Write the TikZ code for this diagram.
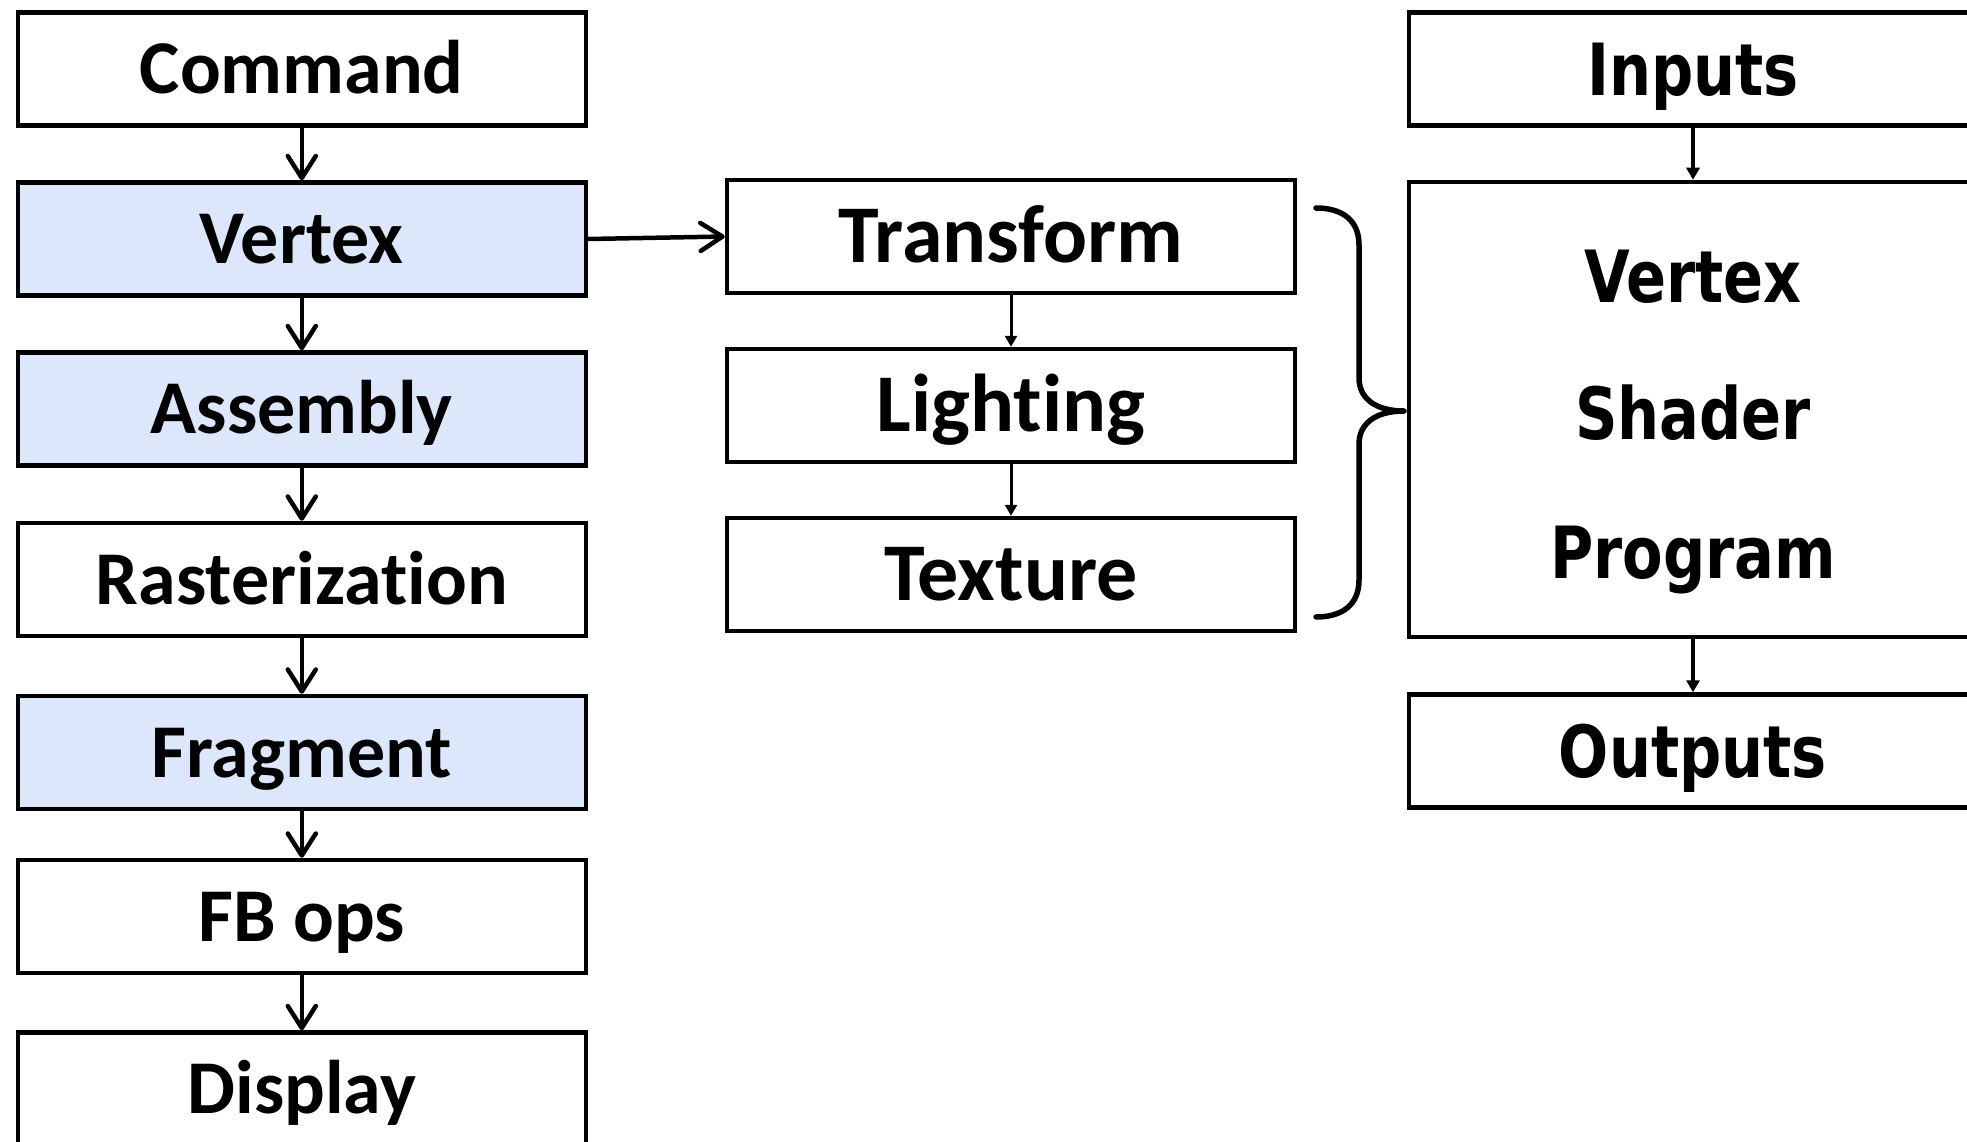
\documentclass[tikz,border=0pt]{standalone}
\usepackage{fontspec}
\newfontfamily\lfont{Carlito}[Ligatures=NoCommon]
\newfontfamily\rfont{DejaVu Sans}[FakeStretch=0.82]
\usetikzlibrary{arrows.meta}
\definecolor{stageblue}{RGB}{221,231,252}
\begin{document}
\begin{tikzpicture}[x=1pt,y=-1pt,
  stagebox/.style={draw=black,line width=4.5pt,rectangle,minimum width=568pt,minimum height=113pt,inner sep=0pt,fill=white},
  leftbox/.style={stagebox,font=\lfont\bfseries\fontsize{76}{90}\selectfont,text height=49pt,text depth=0pt},
  hilite/.style={fill=stageblue},
  midbox/.style={stagebox,font=\lfont\bfseries\fontsize{82}{90}\selectfont,text height=52.5pt,text depth=0pt},
  rightbox/.style={stagebox,font=\rfont\bfseries\fontsize{72}{90}\selectfont,text height=52.5pt,text depth=0pt},
  rtext/.style={inner sep=0pt,font=\rfont\bfseries\fontsize{72}{90}\selectfont,text height=52.5pt,text depth=0pt},
  bigarrow/.style={line width=4.5pt,-{Straight Barb[round,length=22pt,width=28pt,line width=4.5pt]}},
  thinarrow/.style={line width=3pt,-{Triangle[length=11pt,width=12pt]}},
  medarrow/.style={line width=3.5pt,-{Triangle[length=12pt,width=13pt]}},
  bracestyle/.style={line width=5.5pt,line cap=round,line join=round}
]
\useasboundingbox (0,0) rectangle (1967,1142);
\fill[white] (0,0) rectangle (1967,1142);
\clip (0,0) rectangle (1967,1142);

% left column
\node[leftbox] (cmd) at (301.8,69) {Command};
\node[leftbox,hilite] (vtx) at (301.8,239) {Vertex};
\node[leftbox,hilite] (asm) at (301.8,409) {Assembly};
\node[leftbox] (ras) at (301.8,579.5) {Rasterizat\kern0pt ion};
\node[leftbox,hilite] (frg) at (301.8,752.5) {Fragment};
\node[leftbox] (fbo) at (301.8,916.5) {FB ops};
\node[leftbox] (dsp) at (301.8,1089) {Display};

% middle column
\node[midbox] (trf) at (1011,236.5) {Transform};
\node[midbox] (lgt) at (1011,405.5) {Lighting};
\node[midbox] (tex) at (1011,574.5) {Texture};

% right column
\node[rightbox] (inp) at (1693,69) {Inputs};
\node[stagebox,minimum height=455pt] (vsp) at (1693,409.5) {};
\node[rtext] (vsp1) at (1693,276) {Vertex};
\node[rtext] (vsp2) at (1693,413) {Shader};
\node[rtext] (vsp3) at (1693,552) {Program};
\node[rightbox] (out) at (1693,751) {Outputs};

% connectors
\draw[bigarrow] (cmd.south) -- (vtx.north);
\draw[bigarrow] (vtx.south) -- (asm.north);
\draw[bigarrow] (asm.south) -- (ras.north);
\draw[bigarrow] (ras.south) -- (frg.north);
\draw[bigarrow] (frg.south) -- (fbo.north);
\draw[bigarrow] (fbo.south) -- (dsp.north);
\draw[bigarrow] (vtx.east) -- (trf.west);
\draw[thinarrow] (trf.south) -- (lgt.north);
\draw[thinarrow] (lgt.south) -- (tex.north);
\draw[medarrow] (inp.south) -- (vsp.north);
\draw[medarrow] (vsp.south) -- (out.north);

% brace
\coordinate (btop) at (1316,208);
\coordinate (btip) at (1404,411);
\coordinate (bbot) at (1316,617);
\draw[bracestyle] (btop) .. controls (1342,208) and (1359,220) .. (1359,245)
  -- (1359,378) .. controls (1359,398) and (1375,411) .. (btip)
  .. controls (1375,411) and (1359,424) .. (1359,444)
  -- (1359,580) .. controls (1359,605) and (1342,617) .. (bbot);
\end{tikzpicture}
\end{document}
